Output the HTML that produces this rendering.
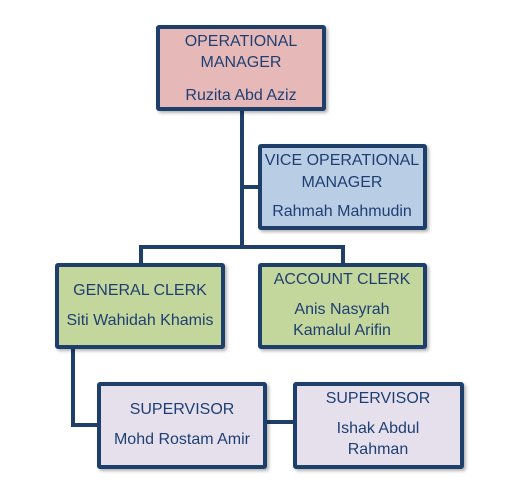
<!DOCTYPE html>
<html><head><style>
body{margin:0;width:515px;height:493px;background:#fff;position:relative;overflow:hidden;font-family:"Liberation Sans",sans-serif;}
.b{position:absolute;box-sizing:border-box;border:4px solid #1f3f6b;border-radius:3px;box-shadow:2px 2px 3px rgba(0,0,0,0.3);}
.t{position:absolute;width:200px;text-align:center;color:#1f3f73;font-size:16px;line-height:18px;margin-left:-100px;white-space:nowrap;}
.l{position:absolute;background:#1f3f6b;}
</style></head><body>
<div class="l" style="left:240px;top:108px;width:4px;height:141px"></div>
<div class="l" style="left:240px;top:185px;width:20px;height:4px"></div>
<div class="l" style="left:139px;top:245px;width:206px;height:4px"></div>
<div class="l" style="left:139px;top:245px;width:4px;height:20px"></div>
<div class="l" style="left:341px;top:245px;width:4px;height:20px"></div>
<div class="l" style="left:71px;top:347px;width:4px;height:80px"></div>
<div class="l" style="left:71px;top:423px;width:28px;height:4px"></div>
<div class="l" style="left:265px;top:420px;width:30px;height:4px"></div>

<div class="b" style="left:156px;top:25px;width:170px;height:86px;background:#e6b9b8"></div>
<div class="b" style="left:258px;top:144px;width:169px;height:86px;background:#b9cde5"></div>
<div class="b" style="left:55px;top:263px;width:170px;height:86px;background:#c3d69b"></div>
<div class="b" style="left:258px;top:263px;width:169px;height:86px;background:#c3d69b"></div>
<div class="b" style="left:97px;top:382px;width:170px;height:87px;background:#e5e0ec"></div>
<div class="b" style="left:293px;top:382px;width:171px;height:87px;background:#e5e0ec"></div>

<div class="t" style="left:241px;top:33px">OPERATIONAL</div>
<div class="t" style="left:241px;top:54px">MANAGER</div>
<div class="t" style="left:241px;top:87px">Ruzita Abd Aziz</div>

<div class="t" style="left:342px;top:152px">VICE OPERATIONAL</div>
<div class="t" style="left:342px;top:174px">MANAGER</div>
<div class="t" style="left:342px;top:203px">Rahmah Mahmudin</div>

<div class="t" style="left:140px;top:282px">GENERAL CLERK</div>
<div class="t" style="left:140px;top:312px">Siti Wahidah Khamis</div>

<div class="t" style="left:342px;top:271px">ACCOUNT CLERK</div>
<div class="t" style="left:342px;top:301px">Anis Nasyrah</div>
<div class="t" style="left:342px;top:322px">Kamalul Arifin</div>

<div class="t" style="left:182px;top:401px">SUPERVISOR</div>
<div class="t" style="left:182px;top:431px">Mohd Rostam Amir</div>

<div class="t" style="left:378px;top:390px">SUPERVISOR</div>
<div class="t" style="left:378px;top:420px">Ishak Abdul</div>
<div class="t" style="left:378px;top:441px">Rahman</div>
</body></html>
